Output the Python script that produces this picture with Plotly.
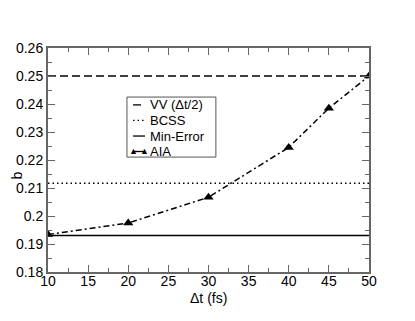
import plotly.graph_objects as go

# AIA values
dt = [10, 20, 30, 40, 45, 50]
b_aia = [0.1934, 0.1975, 0.2067, 0.2245, 0.2385, 0.2500]

# constant reference levels
dt_span = [10, 50]
b_vv = 0.25
b_bcss = 0.2117
b_min_err = 0.1930

x_ticks = [10, 15, 20, 25, 30, 35, 40, 45, 50]
y_ticks = [0.18, 0.19, 0.2, 0.21, 0.22, 0.23, 0.24, 0.25, 0.26]
y_tick_text = ['0.18', '0.19', '0.2', '0.21', '0.22', '0.23', '0.24', '0.25', '0.26']
legend_names = ['VV (Δt/2)', 'BCSS', 'Min-Error', 'AIA']

AXIS_COLOR = '#666666'
DASH = '8px,4px'
DOT = '1.5px,3px'
DASHDOT = '6px,3px,2px,3px'

fig = go.Figure()

fig.add_trace(go.Scatter(
    x=dt_span, y=[b_vv, b_vv], mode='lines',
    line=dict(color='black', width=1.5, dash=DASH),
))
fig.add_trace(go.Scatter(
    x=dt_span, y=[b_bcss, b_bcss], mode='lines',
    line=dict(color='black', width=1.5, dash=DOT),
))
fig.add_trace(go.Scatter(
    x=dt_span, y=[b_min_err, b_min_err], mode='lines',
    line=dict(color='black', width=1.5),
))
fig.add_trace(go.Scatter(
    x=dt, y=b_aia, mode='lines+markers',
    line=dict(color='black', width=1.5, dash=DASHDOT),
    marker=dict(symbol='triangle-up', size=9, color='black'),
))

# compact boxed legend (plotly's own legend rows are too tall for this one)
lx0, lx1 = 0.246, 0.523
ly0, ly1 = 0.513, 0.781
row_y = [0.746, 0.677, 0.607, 0.538]
sx0, sx1, tx = 0.265, 0.302, 0.316
fig.add_shape(type='rect', xref='paper', yref='paper', x0=lx0, x1=lx1, y0=ly0, y1=ly1,
              line=dict(color='#555555', width=1), fillcolor='white', layer='above')
dashes = [DASH, DOT, 'solid', 'solid']
for name, yy, dsh in zip(legend_names, row_y, dashes):
    fig.add_shape(type='line', xref='paper', yref='paper', x0=sx0, x1=sx1, y0=yy, y1=yy,
                  line=dict(color='black', width=1.3, dash=dsh), layer='above')
    fig.add_annotation(x=tx, y=yy, xref='paper', yref='paper', text=name, showarrow=False,
                       xanchor='left', yanchor='middle', borderpad=0,
                       font=dict(size=13, color='black'))
for sx in (sx0, sx1):
    fig.add_annotation(x=sx, y=row_y[3] + 0.004, xref='paper', yref='paper', text='▲',
                       showarrow=False, xanchor='center', yanchor='middle', borderpad=0,
                       font=dict(size=9, color='black'))

# axis titles as annotations so they can sit close to the tick labels
fig.add_annotation(x=0.5, y=-0.117, xref='paper', yref='paper', text='Δt (fs)',
                   showarrow=False, xanchor='center', yanchor='middle', borderpad=0,
                   font=dict(size=14, color='black'))
fig.add_annotation(x=-0.097, y=0.43, xref='paper', yref='paper', text='b', textangle=-90,
                   showarrow=False, xanchor='center', yanchor='middle', borderpad=0,
                   font=dict(size=14, color='black'))

axis_common = dict(
    showline=True, linecolor=AXIS_COLOR, linewidth=2, mirror='allticks',
    ticks='inside', ticklen=7, tickwidth=1, tickcolor=AXIS_COLOR,
    showgrid=False, zeroline=False, automargin=False,
    tickfont=dict(size=14, color='black'),
)

fig.update_xaxes(
    range=[10, 50], tickvals=x_ticks, ticklabelstandoff=-5,
    minor=dict(ticks='inside', ticklen=4, tickcolor=AXIS_COLOR, dtick=2.5, tick0=10),
    **axis_common,
)
fig.update_yaxes(
    range=[0.18, 0.26], tickvals=y_ticks, ticktext=y_tick_text,
    minor=dict(ticks='inside', ticklen=4, tickcolor=AXIS_COLOR, dtick=0.005, tick0=0.18),
    **axis_common,
)

fig.update_layout(
    width=415, height=321,
    margin=dict(l=40, r=54, t=40, b=57),
    paper_bgcolor='white', plot_bgcolor='white',
    font=dict(family='Liberation Sans, Arial, sans-serif', color='black'),
    showlegend=False,
)

fig.write_html('out.html')
